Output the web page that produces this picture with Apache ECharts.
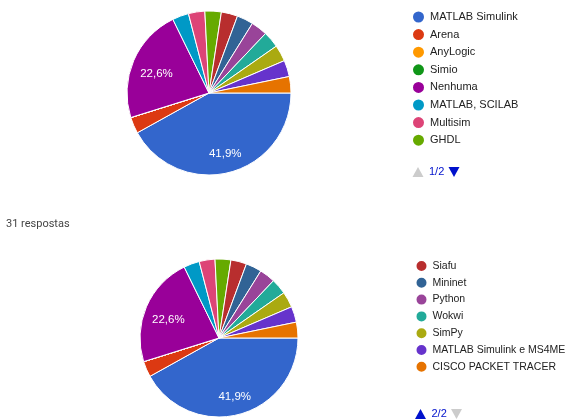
<!DOCTYPE html>
<html lang="pt">

<head>
    <meta charset="UTF-8">
    <title>31 respostas</title>
    <script src="https://cdn.jsdelivr.net/npm/echarts@6/dist/echarts.min.js"></script>
    <style>
        body { margin: 0; background: #fff; }
    </style>
</head>

<body>
    <div id="main" style="width: 565px;height: 419px;"></div>
    <script type="text/javascript">
        // dados
        var names = ['MATLAB Simulink', 'Arena', 'AnyLogic', 'Simio', 'Nenhuma', 'MATLAB, SCILAB', 'Multisim', 'GHDL',
            'Siafu', 'Mininet', 'Python', 'Wokwi', 'SimPy', 'MATLAB Simulink e MS4ME', 'CISCO PACKET TRACER'];
        var counts = [13, 1, 0, 0, 7, 1, 1, 1, 1, 1, 1, 1, 1, 1, 1];
        var colors = ['#3366cc', '#dc3912', '#ff9900', '#109618', '#990099', '#0099c6', '#dd4477', '#66aa00',
            '#b82e2e', '#316395', '#994499', '#22aa99', '#aaaa11', '#6633cc', '#e67300'];
        var page1 = names.slice(0, 8);
        var page2 = names.slice(8);
        var totalText = '31 respostas';

        var font = 'Liberation Sans, Arial, sans-serif';
        var total = counts.reduce(function (a, b) { return a + b; }, 0);

        function pieData(transparent) {
            return names.map(function (n, i) {
                return {
                    name: n,
                    value: counts[i],
                    itemStyle: { color: transparent ? 'rgba(0,0,0,0)' : colors[i] }
                };
            });
        }

        // so mostra o rotulo nas fatias grandes, com virgula decimal
        function pctLabel(p) {
            var pct = p.value / total * 100;
            return pct > 10 ? pct.toFixed(1).replace('.', ',') + '%' : '';
        }

        // pie visivel
        function pie(center, r) {
            return {
                type: 'pie',
                center: center,
                radius: r,
                startAngle: 0,
                clockwise: true,
                avoidLabelOverlap: false,
                label: { show: false },
                labelLine: { show: false },
                itemStyle: { borderColor: '#fff', borderWidth: 1 },
                emphasis: { disabled: true },
                data: pieData(false)
            };
        }

        // camada so para os rotulos (a ~68% do raio)
        function labels(center, r) {
            return {
                type: 'pie',
                center: center,
                radius: [r * 0.36, r],
                startAngle: 0,
                clockwise: true,
                silent: true,
                legendHoverLink: false,
                avoidLabelOverlap: false,
                label: {
                    show: true,
                    position: 'inside',
                    formatter: pctLabel,
                    offset: [1.5, 4],
                    color: '#fff',
                    fontSize: 11.5,
                    fontFamily: font
                },
                labelLine: { show: false },
                itemStyle: { borderWidth: 0 },
                emphasis: { disabled: true },
                data: pieData(true)
            };
        }

        function pager(x, y, text, upActive) {
            var on = '#0011cc', off = '#cccccc';
            return [
                {
                    type: 'polygon',
                    shape: { points: [[x - 5.5, y + 5], [x + 5.5, y + 5], [x, y - 5]] },
                    style: { fill: upActive ? on : off }
                },
                {
                    type: 'text',
                    x: x + 11, y: y,
                    style: { text: text, fill: on, font: '11px ' + font, textVerticalAlign: 'middle' }
                },
                {
                    type: 'polygon',
                    shape: { points: [[x + 30.5, y - 5], [x + 41.5, y - 5], [x + 36, y + 5]] },
                    style: { fill: upActive ? off : on }
                }
            ];
        }

        var myChart = echarts.init(document.getElementById('main'));
        myChart.setOption({
            animation: false,
            title: {
                text: totalText,
                left: 6,
                top: 219,
                padding: 0,
                textStyle: { fontSize: 11, fontWeight: 'normal', color: '#444', fontFamily: 'Roboto' }
            },
            legend: [{
                orient: 'vertical',
                left: 406,
                top: 4.5,
                icon: 'circle',
                itemWidth: 13,
                itemHeight: 13,
                itemGap: 2.6,
                selectedMode: false,
                data: page1,
                textStyle: { fontSize: 11, lineHeight: 14, color: '#222', fontFamily: font }
            }, {
                orient: 'vertical',
                left: 409.5,
                top: 254,
                icon: 'circle',
                itemWidth: 12,
                itemHeight: 12,
                itemGap: 2.8,
                selectedMode: false,
                data: page2,
                textStyle: { fontSize: 10.5, lineHeight: 14, color: '#222', fontFamily: font }
            }],
            graphic: pager(418, 172, '1/2', false).concat(pager(420.5, 414, '2/2', true)),
            series: [
                pie([209, 93], 82),
                pie([219, 338], 79),
                labels([209, 93], 82),
                labels([219, 338], 79)
            ]
        });
    </script>
</body>

</html>
